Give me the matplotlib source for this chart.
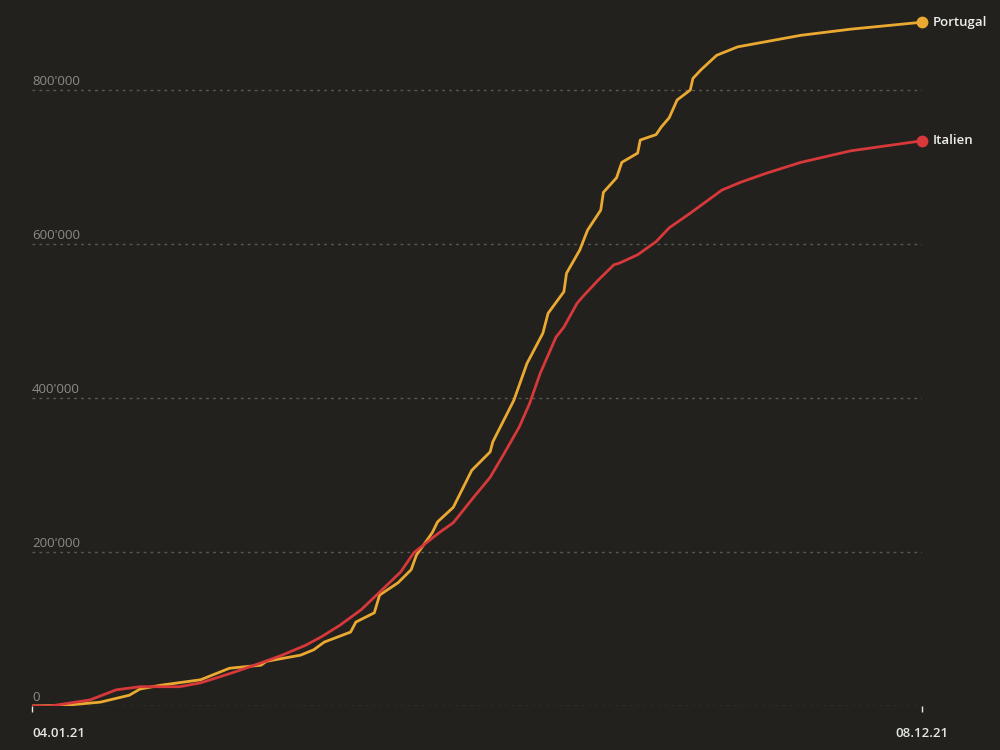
import numpy as np
import pandas as pd
import matplotlib
matplotlib.use('Agg')
import matplotlib.pyplot as plt

plt.rcParams['font.family'] = ['Open Sans', 'DejaVu Sans']

start = pd.Timestamp('2021-01-04')
end = pd.Timestamp('2021-12-08')

# Tage seit 04.01.21 und kumulierte Werte
pt_days = [0, 13, 26, 37, 41, 49, 64, 75, 87, 89, 102, 107, 111, 121, 123, 130, 132,
           139, 144, 146, 152, 154, 160, 167, 174, 175, 183, 188, 194, 196, 202, 203,
           208, 211, 216, 217, 222, 224, 230, 231, 237, 239, 242, 245, 250, 251, 254,
           260, 268, 292, 311, 338]
pt_values = [0, 1000, 5000, 14000, 22000, 27000, 34000, 49000, 53000, 58000, 66000,
             73000, 83000, 96000, 109000, 121000, 144000, 160000, 177000, 196000,
             225000, 239000, 258000, 306000, 330000, 343000, 397000, 445000, 484000,
             510000, 538000, 562000, 592000, 618000, 644000, 667000, 686000, 706000,
             718000, 735000, 742000, 752000, 764000, 787000, 800000, 815000, 826000,
             845000, 856000, 871000, 879000, 888000]

it_days = [0, 7, 22, 32, 41, 56, 64, 76, 87, 95, 104, 110, 117, 125, 133, 140, 145,
           152, 155, 160, 167, 174, 180, 185, 189, 193, 199, 202, 207, 209, 215, 221,
           223, 230, 237, 242, 250, 256, 262, 269, 279, 292, 311, 338]
it_values = [0, 0, 7800, 21000, 25000, 25000, 30000, 43000, 56000, 66000, 79000,
             90000, 105000, 125000, 151000, 174000, 199000, 218000, 226000, 238000,
             268000, 297000, 332000, 362000, 393000, 432000, 479000, 492000, 523000,
             531000, 553000, 573000, 575000, 586000, 603000, 621000, 640000, 655000,
             670000, 680000, 692000, 706000, 721000, 734000]

series = [('Portugal', pt_days, pt_values, '#eaa931'),
          ('Italien', it_days, it_values, '#d7383a')]

y_ticks = [0, 200000, 400000, 600000, 800000]
y_labels = ["0", "200'000", "400'000", "600'000", "800'000"]

bg = '#22211e'
fig = plt.figure(figsize=(10, 7.5), dpi=100, facecolor=bg)
ax = fig.add_axes([0.032, 0.0587, 0.89, 0.924], facecolor=bg)

for y, lab in zip(y_ticks, y_labels):
    ax.axhline(y, color='#5a5955', lw=1, ls=(0, (2, 3)), zorder=1)
    ax.text(start, y + 2500, lab, color='#8c8b86', fontsize=9.5,
            ha='left', va='bottom', zorder=2)

for name, d, v, c in series:
    dates = start + pd.to_timedelta(d, unit='D')
    ax.plot(dates, v, color=c, lw=2, zorder=3, solid_joinstyle='round')
    ax.plot(dates[-1], v[-1], 'o', color=c, ms=7.5, zorder=4, clip_on=False)
    ax.annotate(name, (dates[-1], v[-1]), xytext=(8, 0), textcoords='offset points',
                color='#eeeeea', fontsize=9.5, fontweight='semibold', va='center', ha='left')

ax.set_xlim(start, end)
ax.set_ylim(0, 900000)
for s in ax.spines.values():
    s.set_visible(False)
ax.set_yticks([])
ax.set_xticks([start, end])
ax.set_xticklabels(['04.01.21', '08.12.21'], color='#e6e6e2', fontsize=9.5,
                   fontweight='semibold')
ax.tick_params(axis='x', colors='#e6e6e2', length=4, width=1, pad=11)
lbls = ax.get_xticklabels()
lbls[0].set_ha('left')

fig.savefig('out.png', dpi=100, facecolor=bg)
